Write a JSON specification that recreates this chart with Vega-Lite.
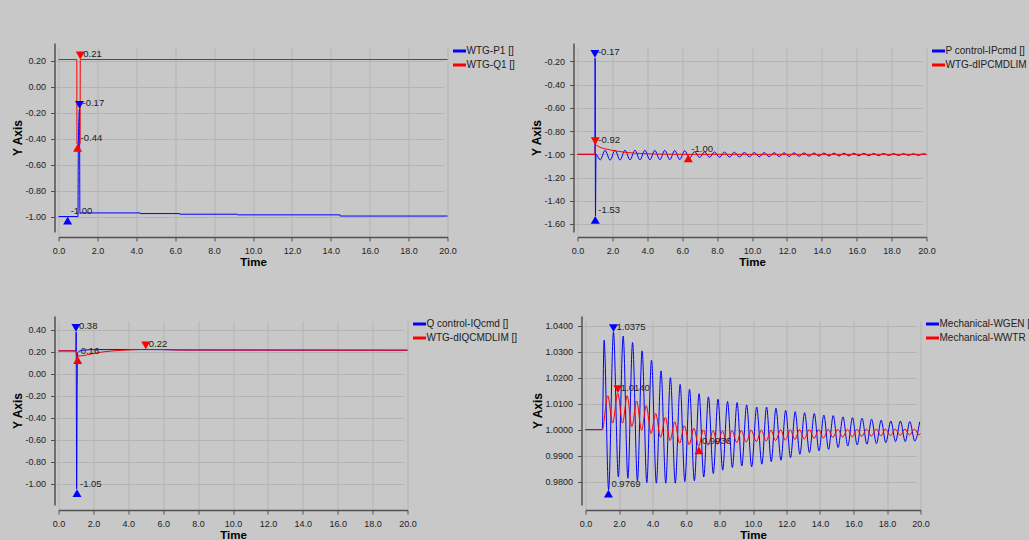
{
  "$schema": "https://vega.github.io/schema/vega-lite/v6.json",
  "background": "#c8c8c8",
  "padding": {"left": 10.5, "top": 43, "right": 0, "bottom": 0},
  "config": {
    "font": "Liberation Sans",
    "locale": {"number": {"decimal": ".", "thousands": ",", "grouping": [3], "currency": ["$", ""], "minus": "-"}},
    "view": {"stroke": null},
    "axis": {"tickCount": 40, "labelFont": "Liberation Sans", "labelFontSize": 9, "labelColor": "#222222", "labelOverlap": false, "labelFlush": false, "titleFont": "Liberation Sans", "titleFontWeight": "bold", "titleColor": "#000000", "gridColor": "#b4b4b4", "gridWidth": 1, "domainColor": "#505050", "domainWidth": 1.5, "tickColor": "#505050", "tickSize": 4},
    "axisX": {"offset": 5, "titleFontSize": 11.5, "labelPadding": 5, "titlePadding": 1.5},
    "axisY": {"offset": 4, "titleFontSize": 12, "labelPadding": 5, "titlePadding": 0.5},
    "legend": {"orient": "right", "offset": 2, "padding": 0, "symbolType": "stroke", "symbolSize": 169, "symbolStrokeWidth": 3, "labelFont": "Liberation Sans", "labelFontSize": 10, "labelColor": "#222222", "labelOffset": -1, "rowPadding": 0, "labelLimit": 300}
  },
  "datasets": {
    "tl": [
      {"s": "WTG-P1 []", "t": 0, "v": -1.0},
      {"s": "WTG-P1 []", "t": 1.0, "v": -1.0},
      {"s": "WTG-P1 []", "t": 1.02, "v": -0.44},
      {"s": "WTG-P1 []", "t": 1.08, "v": -0.17},
      {"s": "WTG-P1 []", "t": 1.1, "v": -0.972},
      {"s": "WTG-P1 []", "t": 4.2, "v": -0.972},
      {"s": "WTG-P1 []", "t": 4.21, "v": -0.977},
      {"s": "WTG-P1 []", "t": 6.22, "v": -0.977},
      {"s": "WTG-P1 []", "t": 6.23, "v": -0.982},
      {"s": "WTG-P1 []", "t": 9.2, "v": -0.982},
      {"s": "WTG-P1 []", "t": 9.21, "v": -0.987},
      {"s": "WTG-P1 []", "t": 14.47, "v": -0.987},
      {"s": "WTG-P1 []", "t": 14.48, "v": -0.996},
      {"s": "WTG-P1 []", "t": 20, "v": -0.996},
      {"s": "WTG-Q1 []", "t": 0, "v": 0.21},
      {"s": "WTG-Q1 []", "t": 0.94, "v": 0.21},
      {"s": "WTG-Q1 []", "t": 0.95, "v": -0.44},
      {"s": "WTG-Q1 []", "t": 1.11, "v": -0.44},
      {"s": "WTG-Q1 []", "t": 1.12, "v": 0.21},
      {"s": "WTG-Q1 []", "t": 20, "v": 0.21}
    ],
    "tl_m": [
      {"s": "WTG-Q1 []", "t": 1.12, "v": 0.21, "d": "dn", "label": "0.21"},
      {"s": "WTG-P1 []", "t": 1.08, "v": -0.17, "d": "dn", "label": "-0.17"},
      {"s": "WTG-Q1 []", "t": 0.98, "v": -0.44, "d": "up", "label": "-0.44"},
      {"s": "WTG-P1 []", "t": 0.47, "v": -1.0, "d": "up", "label": "-1.00"}
    ],
    "tr": [
      {"s": "P control-IPcmd []", "t": 0, "v": -1.0},
      {"s": "P control-IPcmd []", "t": 1.0, "v": -1.0},
      {"s": "P control-IPcmd []", "t": 1.01, "v": -0.17},
      {"s": "P control-IPcmd []", "t": 1.03, "v": -1.53},
      {"s": "P control-IPcmd []", "t": 1.06, "v": -1.0},
      {"s": "P control-IPcmd []", "t": 1.30, "v": -1.048},
      {"s": "P control-IPcmd []", "t": 1.58, "v": -0.966},
      {"s": "P control-IPcmd []", "t": 1.87, "v": -1.050},
      {"s": "P control-IPcmd []", "t": 2.15, "v": -0.964},
      {"s": "P control-IPcmd []", "t": 2.44, "v": -1.049},
      {"s": "P control-IPcmd []", "t": 2.72, "v": -0.965},
      {"s": "P control-IPcmd []", "t": 3.01, "v": -1.048},
      {"s": "P control-IPcmd []", "t": 3.29, "v": -0.964},
      {"s": "P control-IPcmd []", "t": 3.58, "v": -1.048},
      {"s": "P control-IPcmd []", "t": 3.86, "v": -0.965},
      {"s": "P control-IPcmd []", "t": 4.15, "v": -1.047},
      {"s": "P control-IPcmd []", "t": 4.43, "v": -0.966},
      {"s": "P control-IPcmd []", "t": 4.72, "v": -1.047},
      {"s": "P control-IPcmd []", "t": 5.00, "v": -0.966},
      {"s": "P control-IPcmd []", "t": 5.29, "v": -1.046},
      {"s": "P control-IPcmd []", "t": 5.57, "v": -0.967},
      {"s": "P control-IPcmd []", "t": 5.86, "v": -1.045},
      {"s": "P control-IPcmd []", "t": 6.14, "v": -0.970},
      {"s": "P control-IPcmd []", "t": 6.43, "v": -1.030},
      {"s": "P control-IPcmd []", "t": 6.71, "v": -0.977},
      {"s": "P control-IPcmd []", "t": 7.00, "v": -1.027},
      {"s": "P control-IPcmd []", "t": 7.28, "v": -0.979},
      {"s": "P control-IPcmd []", "t": 7.57, "v": -1.026},
      {"s": "P control-IPcmd []", "t": 7.85, "v": -0.980},
      {"s": "P control-IPcmd []", "t": 8.14, "v": -1.025},
      {"s": "P control-IPcmd []", "t": 8.42, "v": -0.981},
      {"s": "P control-IPcmd []", "t": 8.71, "v": -1.024},
      {"s": "P control-IPcmd []", "t": 8.99, "v": -0.982},
      {"s": "P control-IPcmd []", "t": 9.28, "v": -1.023},
      {"s": "P control-IPcmd []", "t": 9.56, "v": -0.983},
      {"s": "P control-IPcmd []", "t": 9.85, "v": -1.022},
      {"s": "P control-IPcmd []", "t": 10.13, "v": -0.984},
      {"s": "P control-IPcmd []", "t": 10.42, "v": -1.021},
      {"s": "P control-IPcmd []", "t": 10.70, "v": -0.985},
      {"s": "P control-IPcmd []", "t": 10.99, "v": -1.020},
      {"s": "P control-IPcmd []", "t": 11.27, "v": -0.986},
      {"s": "P control-IPcmd []", "t": 11.56, "v": -1.019},
      {"s": "P control-IPcmd []", "t": 11.84, "v": -0.987},
      {"s": "P control-IPcmd []", "t": 12.13, "v": -1.018},
      {"s": "P control-IPcmd []", "t": 12.41, "v": -0.987},
      {"s": "P control-IPcmd []", "t": 12.70, "v": -1.017},
      {"s": "P control-IPcmd []", "t": 12.98, "v": -0.988},
      {"s": "P control-IPcmd []", "t": 13.27, "v": -1.016},
      {"s": "P control-IPcmd []", "t": 13.55, "v": -0.989},
      {"s": "P control-IPcmd []", "t": 13.84, "v": -1.015},
      {"s": "P control-IPcmd []", "t": 14.12, "v": -0.989},
      {"s": "P control-IPcmd []", "t": 14.41, "v": -1.014},
      {"s": "P control-IPcmd []", "t": 14.69, "v": -0.990},
      {"s": "P control-IPcmd []", "t": 14.98, "v": -1.014},
      {"s": "P control-IPcmd []", "t": 15.26, "v": -0.991},
      {"s": "P control-IPcmd []", "t": 15.55, "v": -1.013},
      {"s": "P control-IPcmd []", "t": 15.83, "v": -0.991},
      {"s": "P control-IPcmd []", "t": 16.12, "v": -1.012},
      {"s": "P control-IPcmd []", "t": 16.40, "v": -0.992},
      {"s": "P control-IPcmd []", "t": 16.69, "v": -1.012},
      {"s": "P control-IPcmd []", "t": 16.97, "v": -0.993},
      {"s": "P control-IPcmd []", "t": 17.26, "v": -1.011},
      {"s": "P control-IPcmd []", "t": 17.54, "v": -0.993},
      {"s": "P control-IPcmd []", "t": 17.83, "v": -1.010},
      {"s": "P control-IPcmd []", "t": 18.11, "v": -0.994},
      {"s": "P control-IPcmd []", "t": 18.40, "v": -1.010},
      {"s": "P control-IPcmd []", "t": 18.68, "v": -0.994},
      {"s": "P control-IPcmd []", "t": 18.97, "v": -1.009},
      {"s": "P control-IPcmd []", "t": 19.25, "v": -0.995},
      {"s": "P control-IPcmd []", "t": 19.54, "v": -1.009},
      {"s": "P control-IPcmd []", "t": 19.82, "v": -0.995},
      {"s": "P control-IPcmd []", "t": 20.0, "v": -1.003},
      {"s": "WTG-dIPCMDLIM []", "t": 0, "v": -1.0},
      {"s": "WTG-dIPCMDLIM []", "t": 1.0, "v": -1.0},
      {"s": "WTG-dIPCMDLIM []", "t": 1.02, "v": -0.92},
      {"s": "WTG-dIPCMDLIM []", "t": 1.3, "v": -0.94},
      {"s": "WTG-dIPCMDLIM []", "t": 1.6, "v": -0.953},
      {"s": "WTG-dIPCMDLIM []", "t": 1.9, "v": -0.963},
      {"s": "WTG-dIPCMDLIM []", "t": 2.2, "v": -0.971},
      {"s": "WTG-dIPCMDLIM []", "t": 2.5, "v": -0.978},
      {"s": "WTG-dIPCMDLIM []", "t": 2.9, "v": -0.985},
      {"s": "WTG-dIPCMDLIM []", "t": 3.3, "v": -0.99},
      {"s": "WTG-dIPCMDLIM []", "t": 3.8, "v": -0.994},
      {"s": "WTG-dIPCMDLIM []", "t": 4.4, "v": -0.997},
      {"s": "WTG-dIPCMDLIM []", "t": 5.2, "v": -0.999},
      {"s": "WTG-dIPCMDLIM []", "t": 6.4, "v": -1.0},
      {"s": "WTG-dIPCMDLIM []", "t": 20, "v": -1.0}
    ],
    "tr_m": [
      {"s": "P control-IPcmd []", "t": 1.0, "v": -0.17, "d": "dn", "label": "-0.17"},
      {"s": "WTG-dIPCMDLIM []", "t": 1.02, "v": -0.92, "d": "dn", "label": "-0.92"},
      {"s": "WTG-dIPCMDLIM []", "t": 6.35, "v": -1.0, "d": "up", "label": "-1.00"},
      {"s": "P control-IPcmd []", "t": 1.02, "v": -1.53, "d": "up", "label": "-1.53"}
    ],
    "bl": [
      {"s": "Q control-IQcmd []", "t": 0, "v": 0.207},
      {"s": "Q control-IQcmd []", "t": 1.0, "v": 0.207},
      {"s": "Q control-IQcmd []", "t": 1.01, "v": 0.38},
      {"s": "Q control-IQcmd []", "t": 1.04, "v": -1.05},
      {"s": "Q control-IQcmd []", "t": 1.07, "v": -0.1},
      {"s": "Q control-IQcmd []", "t": 1.1, "v": 0.19},
      {"s": "Q control-IQcmd []", "t": 1.2, "v": 0.205},
      {"s": "Q control-IQcmd []", "t": 1.5, "v": 0.214},
      {"s": "Q control-IQcmd []", "t": 2.0, "v": 0.218},
      {"s": "Q control-IQcmd []", "t": 4.0, "v": 0.219},
      {"s": "Q control-IQcmd []", "t": 6.0, "v": 0.218},
      {"s": "Q control-IQcmd []", "t": 7.0, "v": 0.215},
      {"s": "Q control-IQcmd []", "t": 20, "v": 0.213},
      {"s": "WTG-dIQCMDLIM []", "t": 0, "v": 0.207},
      {"s": "WTG-dIQCMDLIM []", "t": 1.0, "v": 0.207},
      {"s": "WTG-dIQCMDLIM []", "t": 1.03, "v": 0.16},
      {"s": "WTG-dIQCMDLIM []", "t": 1.47, "v": 0.165},
      {"s": "WTG-dIQCMDLIM []", "t": 1.85, "v": 0.178},
      {"s": "WTG-dIQCMDLIM []", "t": 2.23, "v": 0.19},
      {"s": "WTG-dIQCMDLIM []", "t": 3.0, "v": 0.205},
      {"s": "WTG-dIQCMDLIM []", "t": 3.95, "v": 0.215},
      {"s": "WTG-dIQCMDLIM []", "t": 5.0, "v": 0.22},
      {"s": "WTG-dIQCMDLIM []", "t": 6.0, "v": 0.219},
      {"s": "WTG-dIQCMDLIM []", "t": 7.0, "v": 0.215},
      {"s": "WTG-dIQCMDLIM []", "t": 20, "v": 0.213}
    ],
    "bl_m": [
      {"s": "Q control-IQcmd []", "t": 1.0, "v": 0.38, "d": "dn", "label": "0.38"},
      {"s": "WTG-dIQCMDLIM []", "t": 5.0, "v": 0.22, "d": "dn", "label": "0.22"},
      {"s": "WTG-dIQCMDLIM []", "t": 1.1, "v": 0.16, "d": "up", "label": "0.16"},
      {"s": "Q control-IQcmd []", "t": 1.06, "v": -1.05, "d": "up", "label": "-1.05"}
    ],
    "br": [
      {"s": "Mechanical-WGEN []", "t": 0, "v": 1.0},
      {"s": "Mechanical-WGEN []", "t": 1.0, "v": 1.0},
      {"s": "Mechanical-WGEN []", "t": 1.11, "v": 1.0344},
      {"s": "Mechanical-WGEN []", "t": 1.38, "v": 0.9769},
      {"s": "Mechanical-WGEN []", "t": 1.67, "v": 1.0375},
      {"s": "Mechanical-WGEN []", "t": 1.96, "v": 0.9818},
      {"s": "Mechanical-WGEN []", "t": 2.25, "v": 1.036},
      {"s": "Mechanical-WGEN []", "t": 2.53, "v": 0.9813},
      {"s": "Mechanical-WGEN []", "t": 2.81, "v": 1.0335},
      {"s": "Mechanical-WGEN []", "t": 3.10, "v": 0.9803},
      {"s": "Mechanical-WGEN []", "t": 3.38, "v": 1.0303},
      {"s": "Mechanical-WGEN []", "t": 3.66, "v": 0.9796},
      {"s": "Mechanical-WGEN []", "t": 3.94, "v": 1.0267},
      {"s": "Mechanical-WGEN []", "t": 4.23, "v": 0.9794},
      {"s": "Mechanical-WGEN []", "t": 4.51, "v": 1.0226},
      {"s": "Mechanical-WGEN []", "t": 4.79, "v": 0.9794},
      {"s": "Mechanical-WGEN []", "t": 5.07, "v": 1.02},
      {"s": "Mechanical-WGEN []", "t": 5.36, "v": 0.9794},
      {"s": "Mechanical-WGEN []", "t": 5.65, "v": 1.0174},
      {"s": "Mechanical-WGEN []", "t": 5.93, "v": 0.98},
      {"s": "Mechanical-WGEN []", "t": 6.21, "v": 1.0155},
      {"s": "Mechanical-WGEN []", "t": 6.50, "v": 0.9803},
      {"s": "Mechanical-WGEN []", "t": 6.78, "v": 1.0138},
      {"s": "Mechanical-WGEN []", "t": 7.06, "v": 0.9818},
      {"s": "Mechanical-WGEN []", "t": 7.34, "v": 1.0126},
      {"s": "Mechanical-WGEN []", "t": 7.63, "v": 0.9831},
      {"s": "Mechanical-WGEN []", "t": 7.91, "v": 1.0117},
      {"s": "Mechanical-WGEN []", "t": 8.19, "v": 0.9844},
      {"s": "Mechanical-WGEN []", "t": 8.48, "v": 1.0108},
      {"s": "Mechanical-WGEN []", "t": 8.77, "v": 0.9854},
      {"s": "Mechanical-WGEN []", "t": 9.05, "v": 1.0104},
      {"s": "Mechanical-WGEN []", "t": 9.33, "v": 0.986},
      {"s": "Mechanical-WGEN []", "t": 9.62, "v": 1.0095},
      {"s": "Mechanical-WGEN []", "t": 9.92, "v": 0.9857},
      {"s": "Mechanical-WGEN []", "t": 10.22, "v": 1.0087},
      {"s": "Mechanical-WGEN []", "t": 10.53, "v": 0.9867},
      {"s": "Mechanical-WGEN []", "t": 10.81, "v": 1.0087},
      {"s": "Mechanical-WGEN []", "t": 11.09, "v": 0.9877},
      {"s": "Mechanical-WGEN []", "t": 11.37, "v": 1.0082},
      {"s": "Mechanical-WGEN []", "t": 11.67, "v": 0.9882},
      {"s": "Mechanical-WGEN []", "t": 11.95, "v": 1.0074},
      {"s": "Mechanical-WGEN []", "t": 12.24, "v": 0.9892},
      {"s": "Mechanical-WGEN []", "t": 12.52, "v": 1.0069},
      {"s": "Mechanical-WGEN []", "t": 12.80, "v": 0.9905},
      {"s": "Mechanical-WGEN []", "t": 13.08, "v": 1.0065},
      {"s": "Mechanical-WGEN []", "t": 13.37, "v": 0.9912},
      {"s": "Mechanical-WGEN []", "t": 13.66, "v": 1.0062},
      {"s": "Mechanical-WGEN []", "t": 13.94, "v": 0.9918},
      {"s": "Mechanical-WGEN []", "t": 14.23, "v": 1.0056},
      {"s": "Mechanical-WGEN []", "t": 14.51, "v": 0.9924},
      {"s": "Mechanical-WGEN []", "t": 14.79, "v": 1.0054},
      {"s": "Mechanical-WGEN []", "t": 15.08, "v": 0.9931},
      {"s": "Mechanical-WGEN []", "t": 15.37, "v": 1.0049},
      {"s": "Mechanical-WGEN []", "t": 15.66, "v": 0.9937},
      {"s": "Mechanical-WGEN []", "t": 15.94, "v": 1.0046},
      {"s": "Mechanical-WGEN []", "t": 16.22, "v": 0.9941},
      {"s": "Mechanical-WGEN []", "t": 16.51, "v": 1.0044},
      {"s": "Mechanical-WGEN []", "t": 16.80, "v": 0.9944},
      {"s": "Mechanical-WGEN []", "t": 17.08, "v": 1.004},
      {"s": "Mechanical-WGEN []", "t": 17.37, "v": 0.9946},
      {"s": "Mechanical-WGEN []", "t": 17.65, "v": 1.0036},
      {"s": "Mechanical-WGEN []", "t": 17.93, "v": 0.995},
      {"s": "Mechanical-WGEN []", "t": 18.23, "v": 1.0033},
      {"s": "Mechanical-WGEN []", "t": 18.51, "v": 0.9954},
      {"s": "Mechanical-WGEN []", "t": 18.80, "v": 1.0033},
      {"s": "Mechanical-WGEN []", "t": 19.09, "v": 0.9954},
      {"s": "Mechanical-WGEN []", "t": 19.36, "v": 1.0031},
      {"s": "Mechanical-WGEN []", "t": 19.66, "v": 0.9956},
      {"s": "Mechanical-WGEN []", "t": 19.95, "v": 1.003},
      {"s": "Mechanical-WWTR []", "t": 0, "v": 1.0},
      {"s": "Mechanical-WWTR []", "t": 1.0, "v": 1.0},
      {"s": "Mechanical-WWTR []", "t": 1.33, "v": 1.013},
      {"s": "Mechanical-WWTR []", "t": 1.62, "v": 1.0025},
      {"s": "Mechanical-WWTR []", "t": 1.93, "v": 1.014},
      {"s": "Mechanical-WWTR []", "t": 2.21, "v": 1.0025},
      {"s": "Mechanical-WWTR []", "t": 2.49, "v": 1.013},
      {"s": "Mechanical-WWTR []", "t": 2.77, "v": 1.0012},
      {"s": "Mechanical-WWTR []", "t": 3.05, "v": 1.011},
      {"s": "Mechanical-WWTR []", "t": 3.35, "v": 0.9998},
      {"s": "Mechanical-WWTR []", "t": 3.63, "v": 1.0092},
      {"s": "Mechanical-WWTR []", "t": 3.91, "v": 0.9985},
      {"s": "Mechanical-WWTR []", "t": 4.19, "v": 1.0062},
      {"s": "Mechanical-WWTR []", "t": 4.48, "v": 0.997},
      {"s": "Mechanical-WWTR []", "t": 4.77, "v": 1.0047},
      {"s": "Mechanical-WWTR []", "t": 5.05, "v": 0.9958},
      {"s": "Mechanical-WWTR []", "t": 5.33, "v": 1.003},
      {"s": "Mechanical-WWTR []", "t": 5.62, "v": 0.9948},
      {"s": "Mechanical-WWTR []", "t": 5.90, "v": 1.0015},
      {"s": "Mechanical-WWTR []", "t": 6.19, "v": 0.9942},
      {"s": "Mechanical-WWTR []", "t": 6.47, "v": 1.0005},
      {"s": "Mechanical-WWTR []", "t": 6.76, "v": 0.9936},
      {"s": "Mechanical-WWTR []", "t": 7.04, "v": 0.9999},
      {"s": "Mechanical-WWTR []", "t": 7.32, "v": 0.994},
      {"s": "Mechanical-WWTR []", "t": 7.61, "v": 0.9996},
      {"s": "Mechanical-WWTR []", "t": 7.89, "v": 0.9944},
      {"s": "Mechanical-WWTR []", "t": 8.17, "v": 0.9995},
      {"s": "Mechanical-WWTR []", "t": 8.46, "v": 0.9948},
      {"s": "Mechanical-WWTR []", "t": 8.75, "v": 0.9996},
      {"s": "Mechanical-WWTR []", "t": 9.03, "v": 0.995},
      {"s": "Mechanical-WWTR []", "t": 9.30, "v": 0.9997},
      {"s": "Mechanical-WWTR []", "t": 9.60, "v": 0.9952},
      {"s": "Mechanical-WWTR []", "t": 9.89, "v": 0.9998},
      {"s": "Mechanical-WWTR []", "t": 10.20, "v": 0.9954},
      {"s": "Mechanical-WWTR []", "t": 10.50, "v": 0.9998},
      {"s": "Mechanical-WWTR []", "t": 10.79, "v": 0.9956},
      {"s": "Mechanical-WWTR []", "t": 11.07, "v": 0.9998},
      {"s": "Mechanical-WWTR []", "t": 11.35, "v": 0.9958},
      {"s": "Mechanical-WWTR []", "t": 11.65, "v": 0.9999},
      {"s": "Mechanical-WWTR []", "t": 11.93, "v": 0.996},
      {"s": "Mechanical-WWTR []", "t": 12.23, "v": 0.9999},
      {"s": "Mechanical-WWTR []", "t": 12.50, "v": 0.9962},
      {"s": "Mechanical-WWTR []", "t": 12.78, "v": 1.0},
      {"s": "Mechanical-WWTR []", "t": 13.06, "v": 0.9964},
      {"s": "Mechanical-WWTR []", "t": 13.36, "v": 1.0},
      {"s": "Mechanical-WWTR []", "t": 13.65, "v": 0.9966},
      {"s": "Mechanical-WWTR []", "t": 13.92, "v": 1.0},
      {"s": "Mechanical-WWTR []", "t": 14.21, "v": 0.9968},
      {"s": "Mechanical-WWTR []", "t": 14.49, "v": 1.0001},
      {"s": "Mechanical-WWTR []", "t": 14.77, "v": 0.997},
      {"s": "Mechanical-WWTR []", "t": 15.07, "v": 1.0001},
      {"s": "Mechanical-WWTR []", "t": 15.35, "v": 0.9971},
      {"s": "Mechanical-WWTR []", "t": 15.65, "v": 1.0001},
      {"s": "Mechanical-WWTR []", "t": 15.93, "v": 0.9972},
      {"s": "Mechanical-WWTR []", "t": 16.20, "v": 1.0001},
      {"s": "Mechanical-WWTR []", "t": 16.50, "v": 0.9974},
      {"s": "Mechanical-WWTR []", "t": 16.78, "v": 1.0002},
      {"s": "Mechanical-WWTR []", "t": 17.06, "v": 0.9975},
      {"s": "Mechanical-WWTR []", "t": 17.36, "v": 1.0002},
      {"s": "Mechanical-WWTR []", "t": 17.64, "v": 0.9976},
      {"s": "Mechanical-WWTR []", "t": 17.91, "v": 1.0002},
      {"s": "Mechanical-WWTR []", "t": 18.21, "v": 0.9977},
      {"s": "Mechanical-WWTR []", "t": 18.49, "v": 1.0002},
      {"s": "Mechanical-WWTR []", "t": 18.79, "v": 0.9978},
      {"s": "Mechanical-WWTR []", "t": 19.07, "v": 1.0002},
      {"s": "Mechanical-WWTR []", "t": 19.35, "v": 0.9979},
      {"s": "Mechanical-WWTR []", "t": 19.64, "v": 1.0002},
      {"s": "Mechanical-WWTR []", "t": 19.92, "v": 0.998},
      {"s": "Mechanical-WWTR []", "t": 20.0, "v": 0.9985}
    ],
    "br_m": [
      {"s": "Mechanical-WGEN []", "t": 1.67, "v": 1.0375, "d": "dn", "label": "1.0375"},
      {"s": "Mechanical-WWTR []", "t": 1.93, "v": 1.014, "d": "dn", "label": "1.0140"},
      {"s": "Mechanical-WWTR []", "t": 6.77, "v": 0.9936, "d": "up", "label": "0.9936"},
      {"s": "Mechanical-WGEN []", "t": 1.37, "v": 0.9769, "d": "up", "label": "0.9769"}
    ]
  },
  "resolve": {"scale": {"color": "independent"}},
  "spacing": 48,
  "vconcat": [
    {
      "bounds": "flush",
      "spacing": 130,
      "resolve": {"scale": {"color": "independent"}},
      "hconcat": [
        {
          "width": 389, "height": 189,
          "layer": [
            {"data": {"name": "tl"}, "mark": {"type": "line", "strokeWidth": 1, "interpolate": "monotone"},
             "encoding": {
               "x": {"field": "t", "type": "quantitative", "scale": {"domain": [0, 20], "nice": false}, "axis": {"values": [0, 2, 4, 6, 8, 10, 12, 14, 16, 18, 20], "tickCount": 40, "format": ".1f", "title": "Time"}},
               "y": {"field": "v", "type": "quantitative", "scale": {"domain": [-1.119, 0.337], "nice": false, "zero": false}, "axis": {"values": [-1, -0.8, -0.6, -0.4, -0.2, 0, 0.2], "tickCount": 40, "format": ".2f", "title": "Y Axis"}},
               "color": {"field": "s", "type": "nominal", "scale": {"domain": ["WTG-P1 []", "WTG-Q1 []"], "range": ["#0000ff", "#ff0000"]}, "legend": {"title": null}}
             }},
            {"data": {"name": "tl_m"}, "transform": [{"filter": "datum.d == 'dn'"}], "mark": {"type": "point", "shape": "triangle-down", "filled": true, "opacity": 1, "size": 81, "yOffset": -4},
             "encoding": {"x": {"field": "t", "type": "quantitative"}, "y": {"field": "v", "type": "quantitative"}, "color": {"field": "s", "type": "nominal", "legend": null}}},
            {"data": {"name": "tl_m"}, "transform": [{"filter": "datum.d == 'up'"}], "mark": {"type": "point", "shape": "triangle-up", "filled": true, "opacity": 1, "size": 81, "yOffset": 4},
             "encoding": {"x": {"field": "t", "type": "quantitative"}, "y": {"field": "v", "type": "quantitative"}, "color": {"field": "s", "type": "nominal", "legend": null}}},
            {"data": {"name": "tl_m"}, "mark": {"type": "text", "align": "left", "baseline": "middle", "dx": 3, "dy": -5.5, "fontSize": 9.5, "font": "Liberation Sans", "color": "#222222"},
             "encoding": {"x": {"field": "t", "type": "quantitative"}, "y": {"field": "v", "type": "quantitative"}, "text": {"field": "label", "type": "nominal"}}}
          ]
        },
        {
          "width": 349, "height": 189,
          "layer": [
            {"data": {"name": "tr"}, "mark": {"type": "line", "strokeWidth": 1, "interpolate": "monotone"},
             "encoding": {
               "x": {"field": "t", "type": "quantitative", "scale": {"domain": [0, 20], "nice": false}, "axis": {"values": [0, 2, 4, 6, 8, 10, 12, 14, 16, 18, 20], "tickCount": 40, "format": ".1f", "title": "Time"}},
               "y": {"field": "v", "type": "quantitative", "scale": {"domain": [-1.669, -0.041], "nice": false, "zero": false}, "axis": {"values": [-1.6, -1.4, -1.2, -1, -0.8, -0.6, -0.4, -0.2], "tickCount": 40, "format": ".2f", "title": "Y Axis"}},
               "color": {"field": "s", "type": "nominal", "scale": {"domain": ["P control-IPcmd []", "WTG-dIPCMDLIM []"], "range": ["#0000ff", "#ff0000"]}, "legend": {"title": null}}
             }},
            {"data": {"name": "tr_m"}, "transform": [{"filter": "datum.d == 'dn'"}], "mark": {"type": "point", "shape": "triangle-down", "filled": true, "opacity": 1, "size": 81, "yOffset": -4},
             "encoding": {"x": {"field": "t", "type": "quantitative"}, "y": {"field": "v", "type": "quantitative"}, "color": {"field": "s", "type": "nominal", "legend": null}}},
            {"data": {"name": "tr_m"}, "transform": [{"filter": "datum.d == 'up'"}], "mark": {"type": "point", "shape": "triangle-up", "filled": true, "opacity": 1, "size": 81, "yOffset": 4},
             "encoding": {"x": {"field": "t", "type": "quantitative"}, "y": {"field": "v", "type": "quantitative"}, "color": {"field": "s", "type": "nominal", "legend": null}}},
            {"data": {"name": "tr_m"}, "mark": {"type": "text", "align": "left", "baseline": "middle", "dx": 3, "dy": -5.5, "fontSize": 9.5, "font": "Liberation Sans", "color": "#222222"},
             "encoding": {"x": {"field": "t", "type": "quantitative"}, "y": {"field": "v", "type": "quantitative"}, "text": {"field": "label", "type": "nominal"}}}
          ]
        }
      ]
    },
    {
      "bounds": "flush",
      "spacing": 178,
      "resolve": {"scale": {"color": "independent"}},
      "hconcat": [
        {
          "width": 349, "height": 189,
          "layer": [
            {"data": {"name": "bl"}, "mark": {"type": "line", "strokeWidth": 1, "interpolate": "monotone"},
             "encoding": {
               "x": {"field": "t", "type": "quantitative", "scale": {"domain": [0, 20], "nice": false}, "axis": {"values": [0, 2, 4, 6, 8, 10, 12, 14, 16, 18, 20], "tickCount": 40, "format": ".1f", "title": "Time"}},
               "y": {"field": "v", "type": "quantitative", "scale": {"domain": [-1.195, 0.524], "nice": false, "zero": false}, "axis": {"values": [-1, -0.8, -0.6, -0.4, -0.2, 0, 0.2, 0.4], "tickCount": 40, "format": ".2f", "title": "Y Axis"}},
               "color": {"field": "s", "type": "nominal", "scale": {"domain": ["Q control-IQcmd []", "WTG-dIQCMDLIM []"], "range": ["#0000ff", "#ff0000"]}, "legend": {"title": null}}
             }},
            {"data": {"name": "bl_m"}, "transform": [{"filter": "datum.d == 'dn'"}], "mark": {"type": "point", "shape": "triangle-down", "filled": true, "opacity": 1, "size": 81, "yOffset": -4},
             "encoding": {"x": {"field": "t", "type": "quantitative"}, "y": {"field": "v", "type": "quantitative"}, "color": {"field": "s", "type": "nominal", "legend": null}}},
            {"data": {"name": "bl_m"}, "transform": [{"filter": "datum.d == 'up'"}], "mark": {"type": "point", "shape": "triangle-up", "filled": true, "opacity": 1, "size": 81, "yOffset": 4},
             "encoding": {"x": {"field": "t", "type": "quantitative"}, "y": {"field": "v", "type": "quantitative"}, "color": {"field": "s", "type": "nominal", "legend": null}}},
            {"data": {"name": "bl_m"}, "mark": {"type": "text", "align": "left", "baseline": "middle", "dx": 3, "dy": -5.5, "fontSize": 9.5, "font": "Liberation Sans", "color": "#222222"},
             "encoding": {"x": {"field": "t", "type": "quantitative"}, "y": {"field": "v", "type": "quantitative"}, "text": {"field": "label", "type": "nominal"}}}
          ]
        },
        {
          "width": 335, "height": 189,
          "layer": [
            {"data": {"name": "br"}, "mark": {"type": "line", "strokeWidth": 1, "interpolate": "monotone"},
             "encoding": {
               "x": {"field": "t", "type": "quantitative", "scale": {"domain": [0, 20], "nice": false}, "axis": {"values": [0, 2, 4, 6, 8, 10, 12, 14, 16, 18, 20], "tickCount": 40, "format": ".1f", "title": "Time"}},
               "y": {"field": "v", "type": "quantitative", "scale": {"domain": [0.971, 1.0437], "nice": false, "zero": false}, "axis": {"values": [0.98, 0.99, 1, 1.01, 1.02, 1.03, 1.04], "tickCount": 40, "format": ".4f", "title": "Y Axis"}},
               "color": {"field": "s", "type": "nominal", "scale": {"domain": ["Mechanical-WGEN []", "Mechanical-WWTR []"], "range": ["#0000ff", "#ff0000"]}, "legend": {"title": null}}
             }},
            {"data": {"name": "br_m"}, "transform": [{"filter": "datum.d == 'dn'"}], "mark": {"type": "point", "shape": "triangle-down", "filled": true, "opacity": 1, "size": 81, "yOffset": -4},
             "encoding": {"x": {"field": "t", "type": "quantitative"}, "y": {"field": "v", "type": "quantitative"}, "color": {"field": "s", "type": "nominal", "legend": null}}},
            {"data": {"name": "br_m"}, "transform": [{"filter": "datum.d == 'up'"}], "mark": {"type": "point", "shape": "triangle-up", "filled": true, "opacity": 1, "size": 81, "yOffset": 4},
             "encoding": {"x": {"field": "t", "type": "quantitative"}, "y": {"field": "v", "type": "quantitative"}, "color": {"field": "s", "type": "nominal", "legend": null}}},
            {"data": {"name": "br_m"}, "mark": {"type": "text", "align": "left", "baseline": "middle", "dx": 3, "dy": -5.5, "fontSize": 9.5, "font": "Liberation Sans", "color": "#222222"},
             "encoding": {"x": {"field": "t", "type": "quantitative"}, "y": {"field": "v", "type": "quantitative"}, "text": {"field": "label", "type": "nominal"}}}
          ]
        }
      ]
    }
  ]
}
